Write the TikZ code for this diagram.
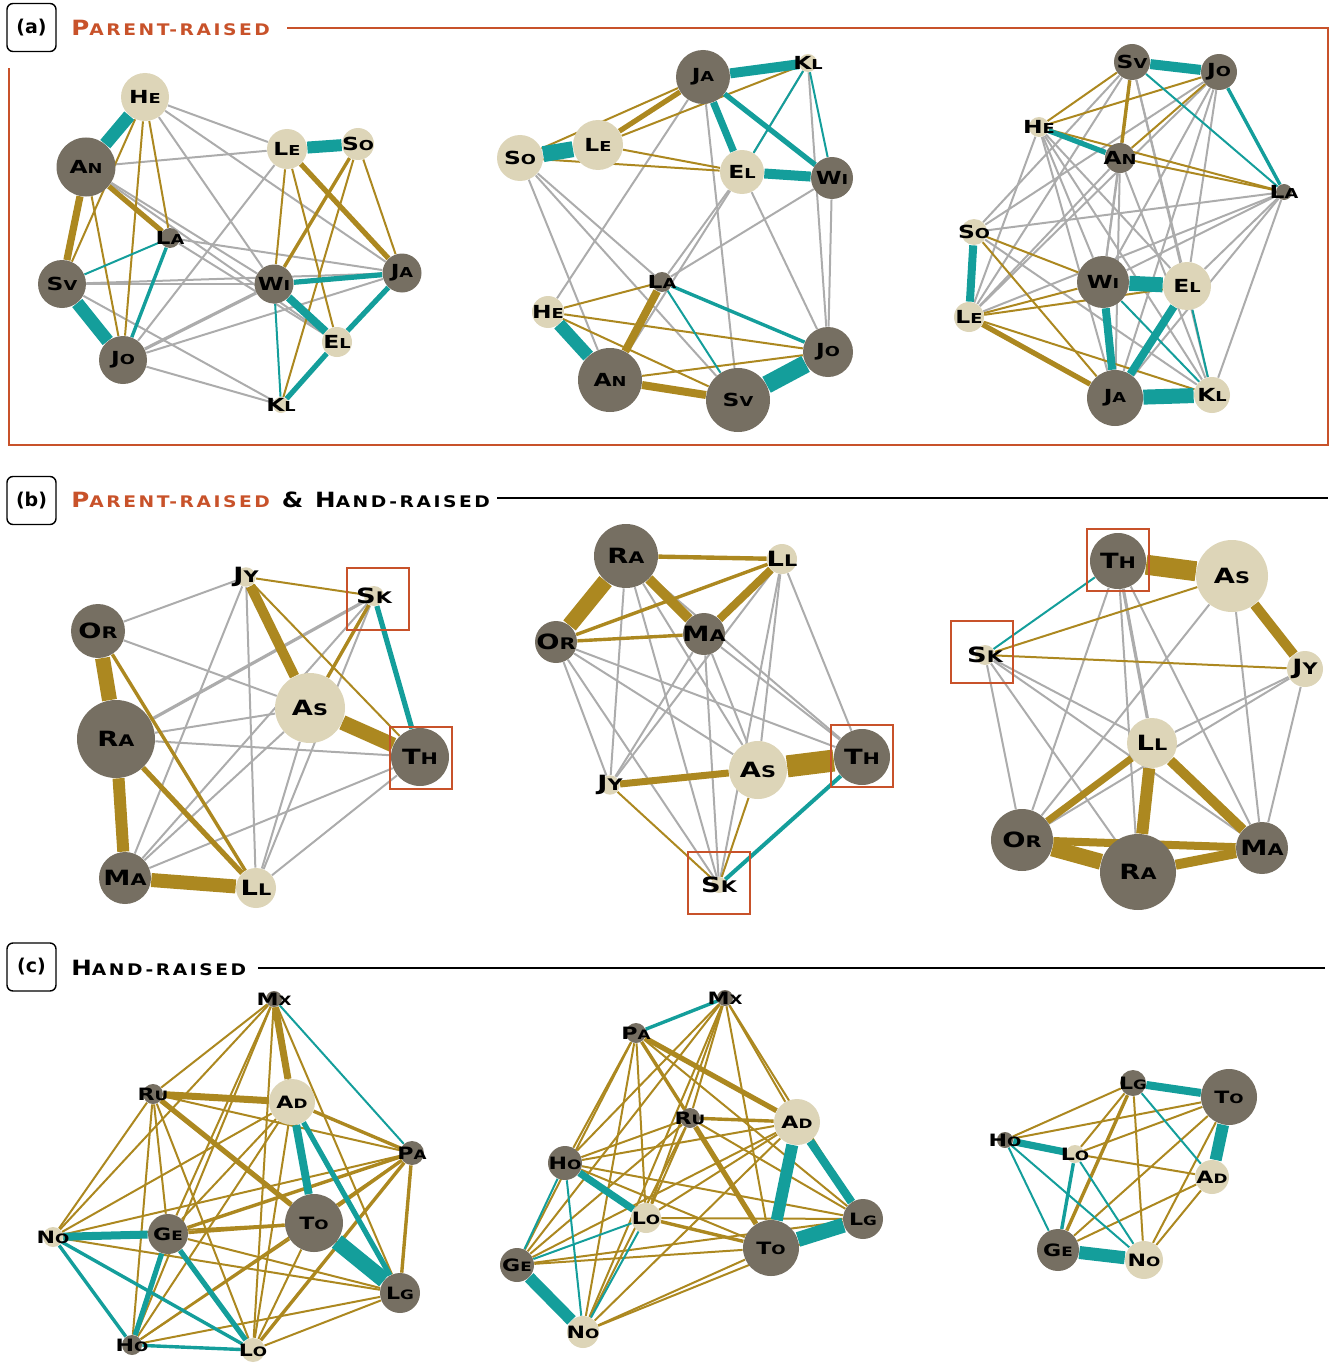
\documentclass[tikz,border=0pt]{standalone}
\usepackage{fontspec}
\usepackage{graphicx}
\setmainfont{DejaVu Sans}
\newfontfamily\lblfont[LetterSpace=6,FakeStretch=1.3]{DejaVu Sans}
\newfontfamily\hdrfont[LetterSpace=16,FakeStretch=1.17]{DejaVu Sans}
\usetikzlibrary{backgrounds}
\definecolor{dk}{RGB}{118,111,98}
\definecolor{lt}{RGB}{221,213,184}
\definecolor{gld}{RGB}{172,136,32}
\definecolor{tl}{RGB}{20,158,155}
\definecolor{gy}{RGB}{172,172,172}
\definecolor{orng}{RGB}{200,82,42}
\newcommand\SC[2]{#1\scalebox{0.76}{#2}}
\newcommand\nd[6]{\node[#1,minimum size=#5pt] (#2) at (#3,#4) {\makebox[0pt]{#6}};}
\newcommand\E[3]{\foreach \u/\v in {#3} {\draw[#2] (#1\u) -- (#1\v);}}
\tikzset{
  dn/.style={circle,fill=dk,inner sep=0pt,text=black},
  ln/.style={circle,fill=lt,inner sep=0pt,text=black},
  w/.style={line width=#1pt},
  ge/.style={draw=gy},
  go/.style={draw=gld},
  te/.style={draw=tl},
  gr/.style={draw=gy,line width=1pt},
  gr2/.style={draw=gy,line width=1.6pt},
  g1/.style={draw=gld,line width=1pt},
  g2/.style={draw=gld,line width=1.7pt},
  g3/.style={draw=gld,line width=2.6pt},
  t1/.style={draw=tl,line width=1pt},
  t2/.style={draw=tl,line width=1.7pt},
  t3/.style={draw=tl,line width=2.6pt},
  hbox/.style={draw,rounded corners=3pt,line width=0.7pt,minimum width=24.5pt,minimum height=24pt,inner sep=0pt,font=\bfseries\fontsize{9.5}{10}\selectfont},
  htxt/.style={anchor=west,inner sep=0pt,font=\hdrfont\bfseries\fontsize{10.5}{11}\selectfont},
  frame/.style={draw=orng,line width=1.3pt},
  redbox/.style={draw=orng,line width=1pt,minimum size=31pt,inner sep=0pt},
  la/.style={font=\lblfont\bfseries\fontsize{9}{9}\selectfont},
  lb/.style={font=\lblfont\bfseries\fontsize{10.5}{10.5}\selectfont},
  lc/.style={font=\lblfont\bfseries\fontsize{8.5}{8.5}\selectfont},
}
\begin{document}
\begin{tikzpicture}[x=0.5pt,y=-0.5pt]
\useasboundingbox (0,0) rectangle (1332,1370);
% ---------- headers ----------
\node[hbox] (ha) at (31.5,27.5) {(a)};
\node[htxt,text=orng] (ta) at (71,28) {\SC{P}{ARENT-RAISED}};
\coordinate (fa) at (287,28);
\draw[frame] (fa) -- (1328,28) -- (1328,445) -- (9,445) -- (9,68);
\node[hbox] (hb) at (31.5,500.5) {(b)};
\node[htxt] (tb) at (71,500) {\textcolor{orng}{\SC{P}{ARENT-RAISED}} \& \SC{H}{AND-RAISED}};
\coordinate (fb) at (497,498);
\coordinate (fb2) at (1328,498);
\draw[line width=0.8pt] (fb) -- (fb2);
\node[hbox] (hc) at (31.5,967) {(c)};
\node[htxt] (tc) at (71,968) {\SC{H}{AND-RAISED}};
\coordinate (fc) at (258,968);
\coordinate (fc2) at (1325,968);
\draw[line width=0.8pt] (fc) -- (fc2);
% ---------- a1 ----------
\begin{scope}[la]
\nd{ln}{AHe}{145}{97}{24}{\SC{H}{E}}
\nd{dn}{AAn}{86}{167}{29.5}{\SC{A}{N}}
\nd{ln}{ALe}{287}{149}{20}{\SC{L}{E}}
\nd{ln}{ASo}{358}{144}{16}{\SC{S}{O}}
\nd{dn}{ALa}{170}{238}{10}{\SC{L}{A}}
\nd{dn}{ASv}{62}{284}{24}{\SC{S}{V}}
\nd{dn}{AWi}{274}{284}{19.5}{\SC{W}{I}}
\nd{dn}{AJa}{402}{273}{19.5}{\SC{J}{A}}
\nd{ln}{AEl}{337}{342}{15}{\SC{E}{L}}
\nd{dn}{AJo}{123}{360}{24}{\SC{J}{O}}
\nd{ln}{AKl}{281}{405}{8}{\SC{K}{L}}
% ---------- a2 ----------
\nd{dn}{BJa}{703}{77}{27}{\SC{J}{A}}
\nd{ln}{BKl}{808}{63}{9}{\SC{K}{L}}
\nd{ln}{BSo}{520}{158}{23}{\SC{S}{O}}
\nd{ln}{BLe}{598}{145}{25}{\SC{L}{E}}
\nd{ln}{BEl}{742}{172}{22}{\SC{E}{L}}
\nd{dn}{BWi}{832}{178}{21}{\SC{W}{I}}
\nd{dn}{BLa}{662}{282}{10}{\SC{L}{A}}
\nd{ln}{BHe}{548}{312}{16}{\SC{H}{E}}
\nd{dn}{BJo}{828}{352}{25}{\SC{J}{O}}
\nd{dn}{BAn}{610}{380}{32}{\SC{A}{N}}
\nd{dn}{BSv}{738}{400}{32}{\SC{S}{V}}
% ---------- a3 ----------
\nd{dn}{CSv}{1132}{62}{18}{\SC{S}{V}}
\nd{dn}{CJo}{1219}{72}{18}{\SC{J}{O}}
\nd{ln}{CHe}{1039}{127}{10}{\SC{H}{E}}
\nd{dn}{CAn}{1120}{158}{15}{\SC{A}{N}}
\nd{dn}{CLa}{1284}{192}{8}{\SC{L}{A}}
\nd{ln}{CSo}{974}{232}{13}{\SC{S}{O}}
\nd{dn}{CWi}{1103}{282}{26}{\SC{W}{I}}
\nd{ln}{CEl}{1187}{286}{24}{\SC{E}{L}}
\nd{ln}{CLe}{969}{317}{15}{\SC{L}{E}}
\nd{dn}{CJa}{1115}{398}{28}{\SC{J}{A}}
\nd{ln}{CKl}{1212}{395}{18}{\SC{K}{L}}
\end{scope}
% ---------- b1 ----------
\begin{scope}[lb]
\nd{ln}{DJy}{246}{577}{8}{\SC{J}{Y}}
\nd{ln}{DSk}{374}{596}{10}{\SC{S}{K}}
\nd{dn}{DOr}{98}{631}{27}{\SC{O}{R}}
\nd{ln}{DAs}{310}{708}{35}{\SC{A}{S}}
\nd{dn}{DRa}{116}{739}{39}{\SC{R}{A}}
\nd{dn}{DTh}{420}{757}{29}{\SC{T}{H}}
\nd{dn}{DMa}{125}{878}{26}{\SC{M}{A}}
\nd{ln}{DLl}{256}{888}{20}{\SC{L}{L}}
% ---------- b2 ----------
\nd{dn}{ERa}{626}{556}{32}{\SC{R}{A}}
\nd{ln}{ELl}{782}{559}{15}{\SC{L}{L}}
\nd{dn}{EOr}{556}{642}{21}{\SC{O}{R}}
\nd{dn}{EMa}{704}{634}{21}{\SC{M}{A}}
\nd{dn}{ETh}{862}{757}{28}{\SC{T}{H}}
\nd{ln}{EAs}{758}{770}{29}{\SC{A}{S}}
\nd{ln}{EJy}{610}{785}{8}{\SC{J}{Y}}
\nd{ln}{ESk}{719}{885}{8}{\SC{S}{K}}
% ---------- b3 ----------
\nd{dn}{FTh}{1118}{561}{28}{\SC{T}{H}}
\nd{ln}{FAs}{1232}{576}{36}{\SC{A}{S}}
\nd{ln}{FSk}{985}{655}{10}{\SC{S}{K}}
\nd{ln}{FJy}{1305}{669}{18}{\SC{J}{Y}}
\nd{ln}{FLl}{1152}{743}{25}{\SC{L}{L}}
\nd{dn}{FOr}{1022}{840}{31}{\SC{O}{R}}
\nd{dn}{FRa}{1138}{872}{38}{\SC{R}{A}}
\nd{dn}{FMa}{1262}{848}{26}{\SC{M}{A}}
\end{scope}
\node[redbox] (bxD1) at (378,599) {};
\node[redbox] (bxD2) at (421,758) {};
\node[redbox] (bxE1) at (862,756) {};
\node[redbox] (bxE2) at (719,883) {};
\node[redbox] (bxF1) at (1118,560) {};
\node[redbox] (bxF2) at (982,652) {};
% ---------- c1 ----------
\begin{scope}[lc]
\nd{dn}{GMx}{274}{999}{8}{\SC{M}{X}}
\nd{dn}{GRu}{153}{1094}{10}{\SC{R}{U}}
\nd{ln}{GAd}{292}{1102}{23}{\SC{A}{D}}
\nd{dn}{GPa}{412}{1153}{12}{\SC{P}{A}}
\nd{dn}{GTo}{314}{1223}{29}{\SC{T}{O}}
\nd{dn}{GGe}{168}{1234}{20}{\SC{G}{E}}
\nd{ln}{GNo}{53}{1237}{10}{\SC{N}{O}}
\nd{dn}{GLg}{400}{1293}{20}{\SC{L}{G}}
\nd{dn}{GHo}{132}{1345}{10}{\SC{H}{O}}
\nd{ln}{GLo}{253}{1350}{12}{\SC{L}{O}}
% ---------- c2 ----------
\nd{dn}{HMx}{725}{998}{8}{\SC{M}{X}}
\nd{dn}{HPa}{636}{1033}{10}{\SC{P}{A}}
\nd{dn}{HRu}{690}{1118}{10}{\SC{R}{U}}
\nd{ln}{HAd}{797}{1122}{23}{\SC{A}{D}}
\nd{dn}{HHo}{565}{1163}{17}{\SC{H}{O}}
\nd{ln}{HLo}{646}{1218}{15}{\SC{L}{O}}
\nd{dn}{HLg}{863}{1219}{20}{\SC{L}{G}}
\nd{dn}{HTo}{771}{1248}{28}{\SC{T}{O}}
\nd{dn}{HGe}{517}{1265}{17}{\SC{G}{E}}
\nd{ln}{HNo}{583}{1332}{16}{\SC{N}{O}}
% ---------- c3 ----------
\nd{dn}{ILg}{1133}{1083}{13}{\SC{L}{G}}
\nd{dn}{ITo}{1229}{1097}{28}{\SC{T}{O}}
\nd{dn}{IHo}{1005}{1140}{8}{\SC{H}{O}}
\nd{ln}{ILo}{1075}{1154}{9}{\SC{L}{O}}
\nd{ln}{IAd}{1212}{1177}{17}{\SC{A}{D}}
\nd{dn}{IGe}{1058}{1250}{21}{\SC{G}{E}}
\nd{ln}{INo}{1144}{1260}{19}{\SC{N}{O}}
\end{scope}
% ================= edges =================
\begin{pgfonlayer}{background}
% a1
\E{A}{gr}{He/Le,He/Ja,He/Wi,An/Le,An/Wi,An/El,Sv/Wi,Sv/Kl,Jo/Le,Jo/Ja,Jo/Kl,La/Ja,La/El,Sv/Ja}
\E{A}{gr2}{Jo/Wi}
\E{A}{g1}{He/Sv,He/Jo,He/La,An/Jo,Le/Wi,Le/El,So/Kl,So/Ja}
\E{A}{g2}{So/Wi}
\E{A}{go,w=2.6}{An/La,Le/Ja}
\E{A}{go,w=3.6}{An/Sv}
\E{A}{t1}{Sv/La,Wi/Kl}
\E{A}{t2}{Jo/La}
\E{A}{t3}{Ja/El,El/Kl,Wi/Ja}
\E{A}{te,w=4}{Wi/El}
\E{A}{te,w=6}{Le/So}
\E{A}{te,w=6.5}{He/An,Sv/Jo}
% a2
\E{B}{gr}{Ja/He,Ja/Sv,Ja/El,Kl/Jo,So/An,So/La,So/Sv,El/La,El/An,El/Jo,Wi/La,Wi/Jo,Kl/El}
\E{B}{g1}{Kl/Le,So/El,Le/El,La/He,He/Sv,He/Jo,An/Jo,Ja/So,Kl/Ja}
\E{B}{go,w=2.6}{Ja/Le}
\E{B}{go,w=4}{La/An,An/Sv}
\E{B}{t1}{Kl/El,Kl/Wi,La/Sv}
\E{B}{t2}{La/Jo}
\E{B}{t3}{Ja/Wi}
\E{B}{te,w=3.6}{Ja/El}
\E{B}{te,w=5}{Ja/Kl,El/Wi}
\E{B}{te,w=6.5}{He/An}
\E{B}{te,w=8}{So/Le}
\E{B}{te,w=9}{Sv/Jo}
% a3
\E{C}{gr}{Sv/So,Sv/Le,Sv/Wi,Sv/El,Sv/Kl,Jo/Le,Jo/Wi,Jo/Ja,Jo/El,Jo/So,He/Ja,He/El,He/Kl,He/Wi,An/Wi,An/Kl,An/Le,An/Ja,La/So,La/Le,La/Wi,La/Ja,La/El,La/Kl,So/Kl,He/Le}
\E{C}{g1}{Sv/He,Jo/He,Jo/An,He/La,An/La,So/Wi,So/Ja,Le/Wi,Le/El,Le/Kl}
\E{C}{g2}{Sv/An}
\E{C}{g3}{Le/Ja}
\E{C}{t1}{Sv/La,El/Kl,Wi/Kl}
\E{C}{t2}{Jo/La}
\E{C}{t3}{He/An}
\E{C}{te,w=4}{So/Le,Wi/Ja,El/Ja}
\E{C}{te,w=5}{Sv/Jo}
\E{C}{te,w=7.5}{Wi/El,Ja/Kl}
% b1
\E{D}{gr}{Or/Jy,Or/As,Ra/As,Ra/Th,Jy/Ma,Jy/Ll,Sk/Ma,Sk/Ll,As/Ma,As/Ll,As/Th,Th/Ma,Th/Ll}
\E{D}{gr2}{Ra/Sk}
\E{D}{g1}{Jy/Sk,Jy/Th}
\E{D}{g2}{Or/Ll,Sk/As}
\E{D}{g3}{Ra/Ll}
\E{D}{go,w=5}{Jy/As}
\E{D}{go,w=6}{Ra/Ma}
\E{D}{go,w=7}{Ma/Ll}
\E{D}{go,w=7.5}{Or/Ra,As/Th}
\E{D}{t3}{Sk/Th}
% b2
\E{E}{gr}{Ra/Jy,Ra/Sk,Ra/As,Ra/Th,Or/Jy,Or/Sk,Or/As,Or/Th,Ma/Jy,Ma/Sk,Ma/As,Ma/Th,Ll/Jy,Ll/As,Ll/Sk,Ll/Th}
\E{E}{g1}{Jy/Sk,As/Sk}
\E{E}{g2}{Or/Ll,Or/Ma}
\E{E}{go,w=2.2}{Ra/Ll}
\E{E}{go,w=3.5}{Jy/As}
\E{E}{go,w=4}{Ma/Ll}
\E{E}{go,w=5}{Ra/Ma}
\E{E}{go,w=8}{Ra/Or}
\E{E}{go,w=11}{As/Th}
\E{E}{te,w=2}{Sk/Th}
% b3
\E{F}{gr}{Sk/Or,Sk/Ll,Sk/Ma,Th/Or,Th/Ra,Th/Ma,As/Or,As/Ma,Jy/Ll,Jy/Or,Jy/Ma,Ll/Ma,Or/Ll,Sk/Ra}
\E{F}{gr2}{Th/Ll}
\E{F}{g1}{Sk/As,Sk/Jy}
\E{F}{go,w=3.5}{Ll/Or}
\E{F}{go,w=4}{Or/Ma}
\E{F}{go,w=5}{Ll/Ma,Ra/Ma,As/Jy}
\E{F}{go,w=6}{Ll/Ra}
\E{F}{go,w=8}{Or/Ra}
\E{F}{go,w=10}{Th/As}
\E{F}{t1}{Sk/Th}
% c1
\E{G}{g1}{Mx/Ru,Mx/To,Mx/Ge,Mx/No,Mx/Lg,Mx/Ho,Mx/Lo,Ru/Pa,Ru/Ge,Ru/No,Ru/Lg,Ru/Ho,Ru/Lo,Ad/Ge,Ad/No,Ad/Ho,Ad/Lo,Pa/No,Pa/Ho,To/No,To/Ho,To/Lo,Ge/Lg,No/Lg,Lg/Ho,Lg/Lo}
\E{G}{g2}{Ad/Pa,Pa/To,Pa/Ge,Pa/Lg,Pa/Lo,To/Ge}
\E{G}{g3}{Ru/To}
\E{G}{go,w=3.5}{Mx/Ad,Ru/Ad}
\E{G}{t1}{Mx/Pa}
\E{G}{t2}{No/Lo,No/Ho,Ho/Lo}
\E{G}{t3}{Ge/Lo,Ge/Ho,Ad/Lg}
\E{G}{te,w=4}{No/Ge,Ad/To}
\E{G}{te,w=8}{To/Lg}
% c2
\E{H}{g1}{Mx/Ru,Mx/Ad,Mx/Ho,Mx/Lo,Mx/Lg,Mx/To,Mx/Ge,Mx/No,Pa/Ho,Pa/Lo,Pa/Lg,Pa/Ge,Pa/No,Ru/Ho,Ru/Lo,Ru/Lg,Ru/Ge,Ru/No,Ad/Ho,Ad/Lo,Ad/Ge,Ad/No,Ho/Lg,Ho/To,Lo/Lg,Lg/Ge,Lg/No,To/Ge,To/No}
\E{H}{g2}{Pa/Ru,Ru/Ad,Lo/To}
\E{H}{g3}{Pa/Ad,Ru/To}
\E{H}{t1}{Ho/Ge,Ho/No,Ge/Lo,Lo/No}
\E{H}{t2}{Mx/Pa}
\E{H}{te,w=3.6}{Ho/Lo}
\E{H}{te,w=4.2}{Ad/Lg}
\E{H}{te,w=6}{Ad/To,Ge/No}
\E{H}{te,w=7.5}{To/Lg}
% c3
\E{I}{g1}{Ho/Lg,Ho/To,Lo/Lg,Lo/To,Lo/Ad,Ge/To,Ge/Ad,No/Lg,No/To,No/Ad}
\E{I}{g2}{Ge/Lg}
\E{I}{t1}{Ho/Ge,Ho/No,Lo/No,Lg/Ad}
\E{I}{t2}{Lo/Ge}
\E{I}{te,w=3.6}{Ho/Lo}
\E{I}{te,w=4}{Lg/To}
\E{I}{te,w=6}{To/Ad}
\E{I}{te,w=6.5}{Ge/No}
\end{pgfonlayer}
\end{tikzpicture}
\end{document}
